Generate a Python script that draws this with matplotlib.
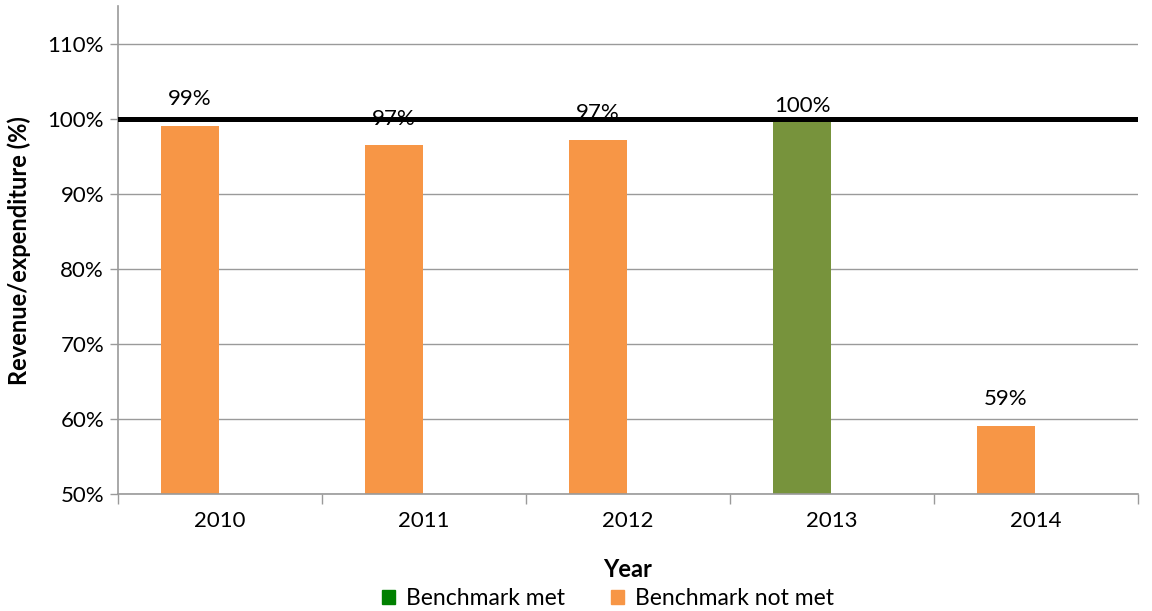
import matplotlib
matplotlib.use("Agg")
import matplotlib.pyplot as plt
from matplotlib.patches import Patch

plt.rcParams['font.family'] = ['Lato', 'DejaVu Sans']

years = ['2010', '2011', '2012', '2013', '2014']
ratio = [99.1, 96.5, 97.2, 100.2, 59.1]
labels = ['99%', '97%', '97%', '100%', '59%']
met = [False, False, False, True, False]
benchmark = 100

orange = '#F79646'
green = '#77933C'
grid_col = '#9A9A9A'

fig = plt.figure(figsize=(11.52, 6.11), dpi=100)
ax = fig.add_axes([0.1024, 0.1915, 0.8854, 0.7979])

pos = list(range(len(years)))
bar_w = 0.284
offset = -0.147
colours = [green if m else orange for m in met]
ax.bar([p + offset for p in pos], ratio, width=bar_w, color=colours,
       bottom=0, zorder=2)

# the label sitting on the benchmark line is pulled down onto it
for p, v, lab, m in zip(pos, ratio, labels, met):
    dy = 1 if m else 12
    ax.annotate(lab, (p + offset, v), xytext=(0, dy), textcoords='offset points',
                ha='center', va='bottom', fontsize=16, zorder=4)

ax.axhline(benchmark, color='black', lw=3.6, zorder=3)

ax.set_ylim(50, 115)
ax.set_xlim(-0.5, len(years) - 0.5)
ax.set_yticks(range(50, 111, 10))
ax.set_yticklabels([f'{t}%' for t in range(50, 111, 10)], fontsize=16)
ax.yaxis.grid(True, color=grid_col, lw=1, zorder=0)

# ticks between categories, labels at centres
ax.set_xticks([p - 0.5 for p in pos] + [len(years) - 0.5])
ax.set_xticklabels([])
ax.set_xticks(pos, minor=True)
ax.set_xticklabels(years, minor=True, fontsize=16)
ax.tick_params(axis='x', which='major', length=7, color=grid_col, width=1)
ax.tick_params(axis='x', which='minor', length=0, pad=12)
ax.tick_params(axis='y', length=6, color=grid_col, width=1, pad=4)

for s in ['top', 'right']:
    ax.spines[s].set_visible(False)
for s in ['left', 'bottom']:
    ax.spines[s].set_color(grid_col)
    ax.spines[s].set_linewidth(1.2)

ax.set_xlabel('Year', fontsize=17, fontweight='bold', labelpad=20)
ax.set_ylabel('Revenue/expenditure (%)', fontsize=17, fontweight='bold', labelpad=12)

handles = [Patch(color='#008000', label='Benchmark met'),
           Patch(color=orange, label='Benchmark not met')]
fig.legend(handles=handles, loc='lower center', bbox_to_anchor=(0.528, -0.03),
           ncol=2, frameon=False, fontsize=16.5, handlelength=0.55, handleheight=0.55,
           handletextpad=0.5, columnspacing=2.0)

fig.savefig('out.png', dpi=100)
